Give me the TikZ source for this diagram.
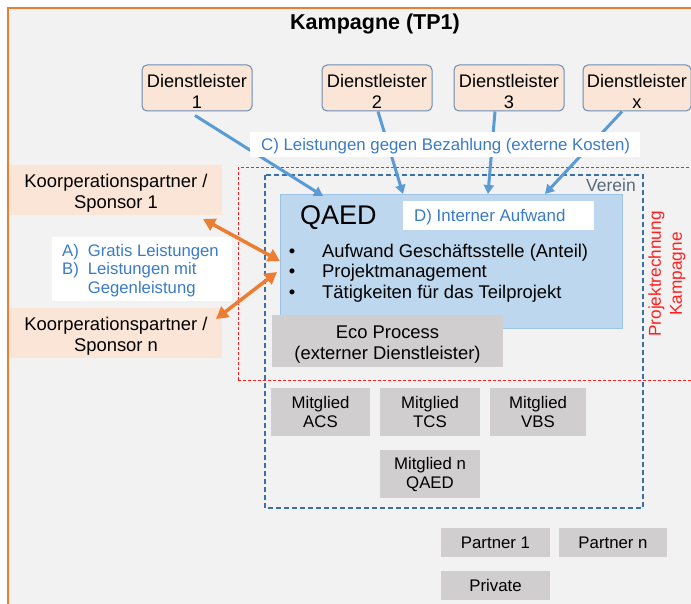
\documentclass[tikz,border=0pt]{standalone}
\usepackage{fontspec}
\setmainfont{Liberation Sans}
\usetikzlibrary{arrows.meta,positioning}
\definecolor{bg}{HTML}{F2F2F2}
\definecolor{peach}{HTML}{FBE5D6}
\definecolor{dborder}{HTML}{6A8DB5}
\definecolor{abl}{HTML}{5B9BD5}
\definecolor{txtbl}{HTML}{3A7BC8}
\definecolor{orng}{HTML}{ED7D31}
\definecolor{qfill}{HTML}{BDD7EE}
\definecolor{qborder}{HTML}{9DC3E6}
\definecolor{gbox}{HTML}{D0CECE}
\definecolor{reddash}{HTML}{FF2020}
\definecolor{bluedash}{HTML}{3C6FA8}
\definecolor{vereintxt}{HTML}{5A6A7A}
\newcommand{\toppad}{\rule{0pt}{20.5pt}}
\tikzset{
  dbox/.style={draw=dborder, line width=1pt, fill=peach, rounded corners=5pt, align=center, inner sep=0pt,
     font=\fontsize{18.2}{21}\selectfont, minimum width=110pt, minimum height=46pt},
  kbox/.style={fill=peach, align=center, inner sep=0pt, font=\fontsize{18.4}{21}\selectfont,
     minimum width=212pt, minimum height=50pt},
  gray/.style={fill=gbox, align=center, inner sep=0pt, font=\fontsize{16.8}{19}\selectfont},
  wbox/.style={fill=white, inner sep=0pt, text=txtbl},
  barrow/.style={draw=abl, line width=3pt, -{Triangle[length=9pt,width=10pt]}},
  oarrow/.style={draw=orng, line width=3.5pt, {Triangle[length=12pt,width=13pt]}-{Triangle[length=12pt,width=13pt]}},
}
\begin{document}
\begin{tikzpicture}[x=1pt,y=-1pt]
\useasboundingbox (0,0) rectangle (691,604);
\fill[white] (0,0) rectangle (691,604);
\fill[bg] (8,8) rectangle (691,604);
\draw[orng, line width=2pt] (8,604) -- (8,8) -- (691,8);

\node[font=\bfseries\fontsize{21.5}{24}\selectfont] (title) at (375,24) {Kampagne (TP1)};

% Dienstleister
\node[dbox] (d1) at (197,88) {\toppad Dienstleister\\1};
\node[dbox] (d2) at (377,88) {\toppad Dienstleister\\2};
\node[dbox] (d3) at (509,88) {\toppad Dienstleister\\3};
\node[dbox, minimum width=108pt] (dx) at (637,88) {\toppad Dienstleister\\x};

% red dashed Projektrechnung frame
\draw[reddash, line width=1pt, dash pattern=on 3pt off 2pt] (238,380) -- (238,168) -- (691,168);
\draw[reddash, line width=1pt, dash pattern=on 3pt off 2pt] (238,380) -- (691,380);
\node[rotate=90, text=reddash, align=center, font=\fontsize{17.2}{21}\selectfont] (proj) at (667,274) {Projektrechnung\\Kampagne};

% Verein frame
\draw[bluedash, line width=1.5pt, dash pattern=on 5pt off 3pt] (265,175) rectangle (643,508);
\node[text=vereintxt, font=\fontsize{17.5}{20}\selectfont, anchor=base east, inner sep=0pt] (verein) at (636,192) {Verein};

% QAED box
\node[draw=qborder, fill=qfill, line width=1pt, minimum width=342pt, minimum height=133pt, inner sep=0pt] (qaed) at (451.5,261.5) {};
\node[anchor=base west, font=\fontsize{27}{30}\selectfont, inner sep=0pt] (qaedt) at (300,225) {QAED};
\node[wbox, minimum width=191pt, minimum height=29pt, anchor=north west] (dbox) at (403,201) {};
\node[text=txtbl, font=\fontsize{16.9}{20}\selectfont, anchor=base west, inner sep=0pt] (dtext) at (414,221.5) {D) Interner Aufwand};
\foreach \y/\t [count=\i] in {258/Aufwand Geschäftsstelle (Anteil), 278/Projektmanagement, 298.5/Tätigkeiten für das Teilprojekt} {
  \node[font=\fontsize{18.4}{21}\selectfont, anchor=base, inner sep=0pt] (bul\i) at (292,\y) {\textbullet};
  \node[font=\fontsize{18.4}{21}\selectfont, anchor=base west, inner sep=0pt] (btx\i) at (322,\y) {\t};
}

% Eco Process
\node[gray, minimum width=231pt, minimum height=52pt, font=\fontsize{18.4}{21}\selectfont] (eco) at (387.5,341) {\toppad Eco Process\\(externer Dienstleister)};

% Mitglieder
\node[gray, minimum width=99pt, minimum height=48pt] (acs) at (320.5,412) {Mitglied\\ACS};
\node[gray, minimum width=100pt, minimum height=48pt] (tcs) at (430,412) {Mitglied\\TCS};
\node[gray, minimum width=96pt, minimum height=48pt] (vbs) at (538,412) {Mitglied\\VBS};
\node[gray, minimum width=100pt, minimum height=48pt] (mn) at (430,474) {Mitglied n\\QAED};

% Partner
\node[gray, minimum width=109pt, minimum height=29pt] (p1) at (495.5,542.5) {Partner 1};
\node[gray, minimum width=108pt, minimum height=29pt] (pn) at (613,542.5) {Partner n};
\node[gray, minimum width=109pt, minimum height=29pt] (priv) at (495.5,585.5) {Private};

% Kooperationspartner
\node[kbox] (k1) at (116,190) {\toppad Koorperationspartner /\\Sponsor 1};
\node[kbox] (kn) at (116,333) {\toppad Koorperationspartner /\\Sponsor n};

% A/B box
\node[wbox, minimum width=180pt, minimum height=64pt, anchor=north west] (ab) at (52,237) {};
\node[anchor=north west, inner sep=0pt, text=txtbl, font=\fontsize{16.7}{18.5}\selectfont] (abt) at (62,243)
  {\begin{tabular}{@{}l@{\hspace{9pt}}l@{}}A) & Gratis Leistungen\\ B) & Leistungen mit\\ & Gegenleistung\end{tabular}};

% arrow end coordinates
\coordinate (q1) at (323,196);
\coordinate (q2) at (403,194);
\coordinate (q3) at (488,194);
\coordinate (q4) at (545,194);
\coordinate (k1e) at (203,219);
\coordinate (q5) at (280,261);
\coordinate (kne) at (216,319);
\coordinate (q6) at (277,272);

\draw[barrow] (d1.south) ++(-2,4) coordinate (d1s) (d1s) -- (q1);
\draw[barrow] ([xshift=1pt]d2.south) -- (q2);
\draw[barrow] ([xshift=-14pt]d3.south) -- (q3);
\draw[barrow] ([xshift=-15pt]dx.south) -- (q4);
\draw[oarrow] (k1e) -- (q5);
\draw[oarrow] (kne) -- (q6);

% C label on top of arrows
\node[wbox, minimum width=390pt, minimum height=25pt, anchor=north west] (cbox) at (250,132) {};
\node[text=txtbl, font=\fontsize{16.8}{20}\selectfont, anchor=base west, inner sep=0pt] (ctext) at (261,151) {C) Leistungen gegen Bezahlung (externe Kosten)};
\end{tikzpicture}
\end{document}
